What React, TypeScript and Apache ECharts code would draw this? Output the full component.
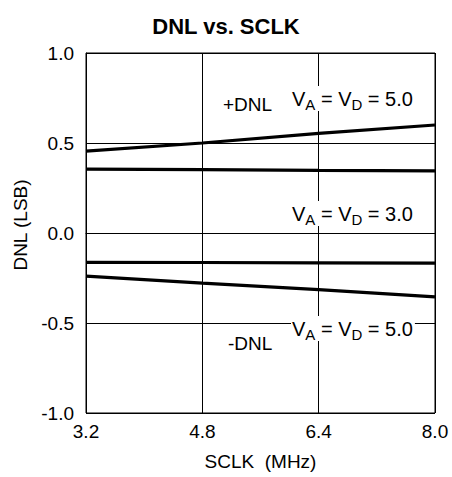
import React, { useEffect, useRef } from 'react';
import * as echarts from 'echarts';

// SCLK (MHz) sample points
const sclk = [3.2, 4.8, 6.4, 8.0];
// DNL (LSB) curves
const posDnlV5 = [0.455, 0.5, 0.553, 0.6];
const posDnlV3 = [0.355, 0.352, 0.348, 0.345];
const negDnlV3 = [-0.163, -0.164, -0.166, -0.167];
const negDnlV5 = [-0.24, -0.278, -0.315, -0.355];

const seriesNames = ['+DNL VA=VD=5.0', '+DNL VA=VD=3.0', '-DNL VA=VD=3.0', '-DNL VA=VD=5.0'];
const seriesValues = [posDnlV5, posDnlV3, negDnlV3, negDnlV5];

const FONT = '"Liberation Sans", Arial, Helvetica, sans-serif';

const supplyLabel = (v: string) => `{m|V}{s|A}{m| = V}{s|D}{m| = ${v}}`;

const richStyle = {
  m: { fontSize: 20, lineHeight: 20, verticalAlign: 'top', fontFamily: FONT, fill: '#000' },
  s: { fontSize: 15, lineHeight: 15, verticalAlign: 'top', padding: [8, 0, 0, 0], fontFamily: FONT, fill: '#000' },
};

export default function App() {
  const ref = useRef<HTMLDivElement>(null);
  useEffect(() => {
    document.body.style.margin = '0';
    if (!ref.current) return;
    const chart = echarts.init(ref.current, undefined, { renderer: 'svg' });
    const fmt = (v: number) => v.toFixed(1);
    chart.setOption({
      animation: false,
      backgroundColor: '#fff',
      textStyle: { fontFamily: FONT, color: '#000' },
      title: {
        text: 'DNL vs. SCLK',
        left: 'center',
        top: 10,
        textStyle: { fontSize: 22, fontWeight: 'bold', color: '#000', fontFamily: FONT },
      },
      grid: {
        left: 86,
        right: 17,
        top: 53,
        bottom: 64,
        show: true,
        borderColor: '#000',
        borderWidth: 1,
        backgroundColor: 'transparent',
      },
      xAxis: {
        type: 'value',
        min: 3.2,
        max: 8.0,
        interval: 1.6,
        name: 'SCLK  (MHz)',
        nameLocation: 'middle',
        nameGap: 39,
        nameTextStyle: { fontSize: 19, color: '#000', fontFamily: FONT },
        axisLine: { show: true, lineStyle: { color: '#000', width: 1 } },
        axisTick: { show: false },
        axisLabel: { color: '#000', fontSize: 19, margin: 9, formatter: fmt, fontFamily: FONT },
        splitLine: { show: true, lineStyle: { color: '#000', width: 1 } },
      },
      yAxis: {
        type: 'value',
        min: -1,
        max: 1,
        interval: 0.5,
        name: 'DNL (LSB)',
        nameLocation: 'middle',
        nameGap: 53,
        nameTextStyle: { fontSize: 19, color: '#000', fontFamily: FONT, padding: [0, 0, 0, 16] },
        axisLine: { show: true, lineStyle: { color: '#000', width: 1 } },
        axisTick: { show: false },
        axisLabel: { color: '#000', fontSize: 19, margin: 12, formatter: fmt, fontFamily: FONT },
        splitLine: { show: true, lineStyle: { color: '#000', width: 1 } },
      },
      series: seriesValues.map((vals, i) => ({
        name: seriesNames[i],
        type: 'line',
        showSymbol: false,
        symbol: 'none',
        z: 5,
        lineStyle: { color: '#000', width: 3.2 },
        data: sclk.map((x, j) => [x, vals[j]]),
      })),
      graphic: [
        {
          type: 'text',
          left: 223,
          top: 95,
          z: 100,
          style: { text: '+DNL', fontSize: 19, fontFamily: FONT, fill: '#000' },
        },
        {
          type: 'text',
          left: 291,
          top: 86,
          z: 100,
          style: {
            text: supplyLabel('5.0'),
            rich: richStyle,
            backgroundColor: '#fff',
            padding: [3, 2, 2, 1],
          },
        },
        {
          type: 'text',
          left: 291,
          top: 201,
          z: 100,
          style: {
            text: supplyLabel('3.0'),
            rich: richStyle,
            backgroundColor: '#fff',
            padding: [3, 2, 2, 1],
          },
        },
        {
          type: 'text',
          left: 228,
          top: 334,
          z: 100,
          style: { text: '-DNL', fontSize: 19, fontFamily: FONT, fill: '#000' },
        },
        {
          type: 'text',
          left: 291,
          top: 316,
          z: 100,
          style: {
            text: supplyLabel('5.0'),
            rich: richStyle,
            backgroundColor: '#fff',
            padding: [3, 2, 2, 1],
          },
        },
      ],
    });
    return () => chart.dispose();
  }, []);
  return (
    <div
      ref={ref}
      style={{ position: 'fixed', left: 0, top: 0, width: 452, height: 477 }}
    />
  );
}
